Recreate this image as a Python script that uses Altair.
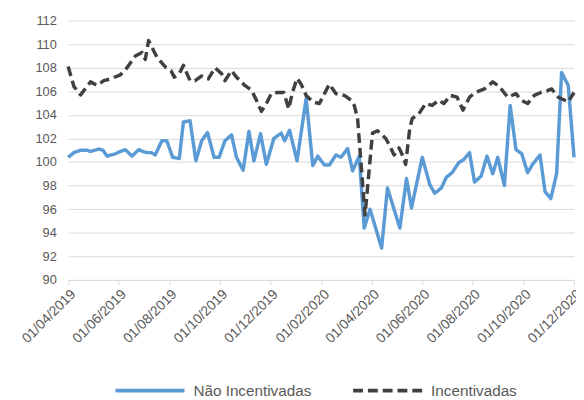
import altair as alt
import pandas as pd

START = pd.Timestamp("2019-04-01")

# Não Incentivadas (days since 01/04/2019, index value)
nao_days = [0, 7, 15, 23, 27, 37, 42, 47, 52, 57, 63, 69, 77, 85, 90, 95, 100, 105, 113, 119,
            126, 134, 139, 147, 154, 161, 168, 176, 182, 189, 197, 203, 211, 218, 224, 232, 239, 248, 257, 261,
            267, 276, 287, 295, 301, 309, 315, 323, 329, 337, 343, 351, 357, 364, 378, 385, 400, 408, 414, 427,
            436, 442, 450, 456, 463, 471, 477, 484, 490, 498, 505, 512, 518, 526, 533, 540, 547, 554, 560, 569,
            575, 582, 589, 595, 603, 610]
nao_vals = [100.4, 100.8, 101.0, 101.0, 100.9, 101.1, 101.0, 100.5, 100.6, 100.7, 100.9, 101.05, 100.5, 101.05, 100.9,
            100.8, 100.8, 100.6, 101.8, 101.8, 100.4, 100.3, 103.4, 103.5, 100.1, 101.8, 102.5, 100.4, 100.4, 101.8,
            102.3, 100.4, 99.3, 102.6, 100.1, 102.4, 99.8, 102.0, 102.45, 101.8, 102.7, 100.1, 105.4, 99.7, 100.5,
            99.75, 99.75, 100.6, 100.4, 101.15, 99.25, 100.5, 94.4, 96.0, 92.7, 97.8, 94.4, 98.6, 96.1, 100.4,
            98.1, 97.35, 97.8, 98.7, 99.1, 99.95, 100.2, 100.8, 98.3, 98.8, 100.5, 99.0, 100.4, 98.0, 104.8,
            101.05, 100.7, 99.1, 99.8, 100.6, 97.5, 96.9, 99.0, 107.6, 106.5, 100.4]

# Incentivadas
inc_days = [0, 7, 15, 27, 35, 43, 51, 63, 71, 81, 89, 93, 97, 107, 118, 124, 128, 134, 139, 147,
            153, 161, 169, 177, 185, 189, 197, 203, 213, 221, 227, 233, 239, 245, 252, 260, 266, 270, 276, 281,
            287, 295, 303, 309, 315, 323, 333, 341, 345, 349, 358, 367, 373, 383, 389, 393, 399, 403, 407, 412,
            415, 423, 431, 439, 447, 453, 461, 469, 476, 484, 491, 502, 512, 520, 530, 540, 546, 554, 562, 570,
            578, 583, 591, 603, 610]
inc_vals = [108.1, 106.4, 105.7, 106.8, 106.5, 106.9, 107.05, 107.4, 108.0, 109.0, 109.3, 108.7, 110.3, 108.9, 108.0,
            107.75, 107.2, 107.5, 108.2, 106.9, 106.9, 107.3, 107.05, 108.0, 107.5, 106.9, 107.75, 107.2, 106.5, 106.1,
            105.25, 104.3, 104.96, 105.8, 105.9, 105.9, 104.5, 105.8, 107.1, 106.6, 105.65, 105.1, 104.96, 105.8, 106.6,
            105.8, 105.65, 105.25, 104.8, 103.7, 95.5, 102.45, 102.65, 102.0, 101.2, 100.6, 101.2, 100.6, 99.8, 102.9,
            103.7, 104.1, 104.96, 104.8, 105.25, 104.96, 105.65, 105.5, 104.4, 105.5, 105.9, 106.2, 106.8, 106.4, 105.5,
            105.8, 105.25, 104.96, 105.65, 105.9, 106.05, 106.2, 105.5, 105.1, 105.9]

series_names = ["Não Incentivadas", "Incentivadas"]
series_colors = ["#5B9BD5", "#404040"]
y_ticks = list(range(90, 113, 2))
x_tick_months = [(2019, 4), (2019, 6), (2019, 8), (2019, 10), (2019, 12), (2020, 2),
                 (2020, 4), (2020, 6), (2020, 8), (2020, 10), (2020, 12)]


def to_dates(days):
    return [(START + pd.Timedelta(days=d)).strftime("%Y-%m-%d") for d in days]


df = pd.concat([
    pd.DataFrame({"data": to_dates(nao_days), "valor": nao_vals, "serie": series_names[0]}),
    pd.DataFrame({"data": to_dates(inc_days), "valor": inc_vals, "serie": series_names[1]}),
], ignore_index=True)

x_enc = alt.X(
    "data:T",
    scale=alt.Scale(type="utc",
                    domain=[alt.DateTime(year=2019, month=4, date=1, utc=True),
                            alt.DateTime(year=2020, month=12, date=1, utc=True)],
                    nice=False),
    axis=alt.Axis(
        values=[alt.DateTime(year=y, month=m, date=1, utc=True) for y, m in x_tick_months],
        format="%d/%m/%Y", labelAngle=-45, grid=False, title=None,
        domainColor="#d9d9d9", tickColor="#d9d9d9", tickSize=5,
        labelFontSize=14, labelColor="#595959", labelPadding=2,
        labelOverlap=False, labelFlush=False,
    ),
)
y_enc = alt.Y(
    "valor:Q",
    scale=alt.Scale(domain=[90, 112], nice=False, zero=False),
    axis=alt.Axis(values=y_ticks, grid=True, gridColor="#d9d9d9", domain=False, ticks=False,
                  labelPadding=12, labelFontSize=13, labelColor="#595959", title=None),
)


def make_legend():
    return alt.Legend(
        title=None, orient="none", legendX=46, legendY=338, direction="horizontal",
        symbolType="stroke", symbolSize=4900, symbolStrokeWidth=4,
        labelFontSize=15.5, labelColor="#595959", labelOffset=7, columnPadding=34,
        labelLimit=300,
    )


color_enc = alt.Color("serie:N", scale=alt.Scale(domain=series_names, range=series_colors),
                      legend=make_legend())
dash_enc = alt.StrokeDash("serie:N", scale=alt.Scale(domain=series_names, range=[[1, 0], [10, 5]]),
                          legend=make_legend())

base = alt.Chart(df).mark_line(strokeWidth=3.5, strokeCap="butt", strokeJoin="round").encode(
    x=x_enc, y=y_enc, color=color_enc, strokeDash=dash_enc, order="data:T"
)

blue = base.transform_filter(alt.datum.serie == series_names[0])
black = base.transform_filter(alt.datum.serie == series_names[1])

chart = alt.layer(blue, black).properties(
    width=513, height=263,
    autosize=alt.AutoSizeParams(type="none"),
    padding={"left": 61, "top": 10, "right": 2, "bottom": 117},
).configure(font="Liberation Sans").configure_view(stroke=None)

chart.save("out.html", embed_options={"renderer": "svg", "actions": False})
